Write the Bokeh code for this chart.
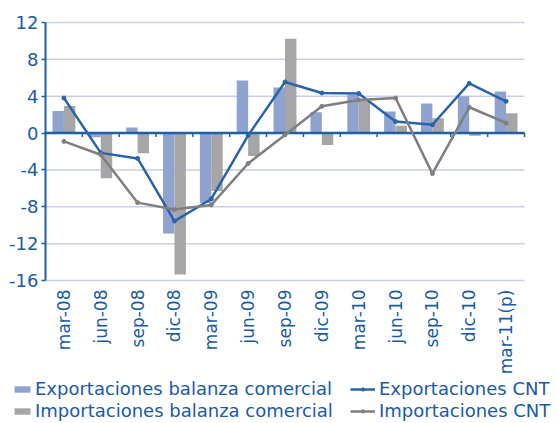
import math
from bokeh.plotting import figure
from bokeh.models import FixedTicker, ColumnDataSource, Range1d, Legend, LegendItem
from bokeh.embed import file_html
from bokeh.resources import INLINE

categories = ["mar-08", "jun-08", "sep-08", "dic-08", "mar-09", "jun-09", "sep-09",
              "dic-09", "mar-10", "jun-10", "sep-10", "dic-10", "mar-11(p)"]
exp_balanza = [2.4, -0.45, 0.6, -10.9, -7.6, 5.7, 4.95, 2.25, 4.15, 2.35, 3.2, 4.0, 4.5]
imp_balanza = [2.95, -4.9, -2.2, -15.35, -6.3, -2.5, 10.25, -1.3, 3.5, 0.8, 1.6, -0.3, 2.15]
exp_cnt = [3.8, -2.15, -2.75, -9.55, -7.15, -0.25, 5.55, 4.35, 4.3, 1.25, 0.9, 5.4, 3.45]
imp_cnt = [-0.9, -2.35, -7.55, -8.3, -7.8, -3.3, -0.2, 2.9, 3.6, 3.8, -4.4, 2.8, 1.1]
y_ticks = [-16, -12, -8, -4, 0, 4, 8, 12]

series_names = ["Exportaciones balanza comercial", "Exportaciones CNT",
                "Importaciones balanza comercial", "Importaciones CNT"]

BLUE_BAR = "#8FA3CE"
GRAY_BAR = "#A6A6A8"
BLUE_LINE = "#2B63A9"
GRAY_LINE = "#7F7F7F"
AXIS = "#1F5EA8"
TEXT = "#1A5BA5"
GRID = "#C9CEEA"
FONT = "DejaVu Sans"

# canvas layout (pixels): plot box inside the full-canvas frame
W, H = 557, 423
BOX_L, BOX_R, BOX_T, BOX_B = 45, 524, 22, 280

n = len(categories)
xs = list(range(n))
x0, x1 = -0.5, n - 0.5
y0, y1 = y_ticks[0], y_ticks[-1]
ppx = (BOX_R - BOX_L) / (x1 - x0)
ppy = (BOX_B - BOX_T) / (y1 - y0)
x_range = Range1d(x0 - BOX_L / ppx, x1 + (W - BOX_R) / ppx)
y_range = Range1d(y0 - (H - BOX_B) / ppy, y1 + BOX_T / ppy)

bw = 0.31
src = ColumnDataSource(dict(
    x=xs,
    xb=[x - bw / 2 for x in xs],
    xg=[x + bw / 2 for x in xs],
    exp_bc=exp_balanza, imp_bc=imp_balanza,
    exp_cnt=exp_cnt, imp_cnt=imp_cnt,
))

p = figure(width=W, height=H, x_range=x_range, y_range=y_range, title=None,
           output_backend="svg", toolbar_location=None,
           min_border=0, min_border_left=0, min_border_right=0,
           min_border_top=0, min_border_bottom=0)
p.outline_line_color = None
p.xgrid.visible = False
p.ygrid.visible = False

# x axis: category labels under the plot box
p.xaxis.fixed_location = y0
p.xaxis.ticker = FixedTicker(ticks=xs)
p.xaxis.major_label_overrides = {i: c for i, c in enumerate(categories)}
p.xaxis.major_label_orientation = math.pi / 2
p.xaxis.axis_line_color = None
p.xaxis.major_tick_line_color = None
p.xaxis.minor_tick_line_color = None
p.xaxis.major_label_standoff = 3
p.xaxis.major_label_text_font = FONT
p.xaxis.major_label_text_font_size = "17px"
p.xaxis.major_label_text_color = TEXT

# y axis at the left edge of the plot box
p.yaxis.fixed_location = x0
p.yaxis.bounds = (y0, y1)
p.yaxis.ticker = FixedTicker(ticks=y_ticks)
p.yaxis.major_label_overrides = {t: str(t) for t in y_ticks}
p.yaxis.axis_line_color = AXIS
p.yaxis.axis_line_width = 2
p.yaxis.major_tick_line_color = AXIS
p.yaxis.major_tick_line_width = 1.5
p.yaxis.major_tick_out = 4
p.yaxis.major_tick_in = 0
p.yaxis.minor_tick_line_color = None
p.yaxis.major_label_standoff = 3
p.yaxis.major_label_text_font = FONT
p.yaxis.major_label_text_font_size = "18px"
p.yaxis.major_label_text_color = TEXT

# horizontal gridlines limited to the plot box
p.segment(x0=[x0] * len(y_ticks), y0=y_ticks, x1=[x1] * len(y_ticks), y1=y_ticks,
          line_color=GRID, line_width=1.5, level="underlay")

r_eb = p.vbar(x="xb", top="exp_bc", bottom=0, width=bw, source=src,
              fill_color=BLUE_BAR, line_color=None)
r_ib = p.vbar(x="xg", top="imp_bc", bottom=0, width=bw, source=src,
              fill_color=GRAY_BAR, line_color=None)

# zero line with ticks at category boundaries
bounds = [i + 0.5 for i in xs]
p.segment(x0=[x0], y0=[0], x1=[x1], y1=[0], line_color=AXIS, line_width=2.5)
p.segment(x0=bounds, y0=[0] * n, x1=bounds, y1=[-4 / ppy] * n, line_color=AXIS, line_width=1.5)

r_el = p.line(x="x", y="exp_cnt", source=src, line_color=BLUE_LINE, line_width=2.5)
r_es = p.scatter(x="x", y="exp_cnt", source=src, marker="circle", size=4,
                 fill_color=BLUE_LINE, line_color=BLUE_LINE)
r_il = p.line(x="x", y="imp_cnt", source=src, line_color=GRAY_LINE, line_width=2.5)
r_is = p.scatter(x="x", y="imp_cnt", source=src, marker="circle", size=4,
                 fill_color=GRAY_LINE, line_color=GRAY_LINE)

common = dict(orientation="vertical", glyph_height=8,
              spacing=1, label_height=21, padding=0, margin=0,
              label_text_font=FONT, label_text_font_size="18px", label_text_color=TEXT,
              background_fill_alpha=0, border_line_alpha=0)
leg1 = Legend(items=[
    LegendItem(label=series_names[0], renderers=[r_eb]),
    LegendItem(label=series_names[2], renderers=[r_ib]),
], location=(12, 2), glyph_width=20, label_standoff=3, **common)
leg2 = Legend(items=[
    LegendItem(label=series_names[1], renderers=[r_el, r_es]),
    LegendItem(label=series_names[3], renderers=[r_il, r_is]),
], location=(350, 2), glyph_width=25, label_standoff=4, **common)
p.add_layout(leg1)
p.add_layout(leg2)

open("out.html", "w").write(file_html(p, INLINE))
